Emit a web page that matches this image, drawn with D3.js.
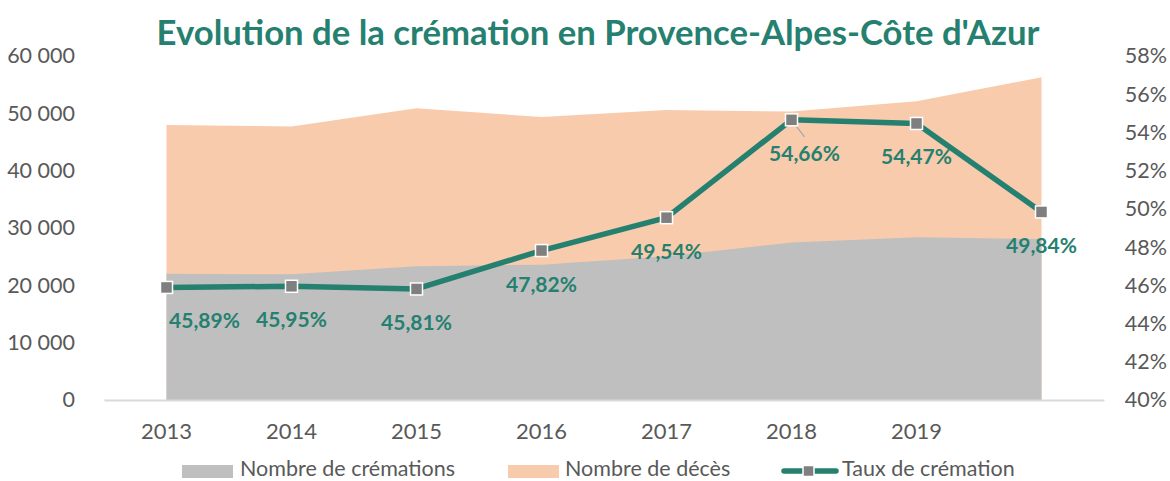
<!DOCTYPE html>
<html>
<head>
<meta charset="utf-8">
<script src="https://cdn.jsdelivr.net/npm/d3@7"></script>
<style>
  body { margin: 0; background: #fff; }
  svg { display: block; font-family: Lato, "Open Sans", sans-serif; }
</style>
</head>
<body>
<script>
// Years on the category axis (last one has no label in the original)
var years = ["2013", "2014", "2015", "2016", "2017", "2018", "2019", "2020"]
var yearLabels = ["2013", "2014", "2015", "2016", "2017", "2018", "2019", ""]

// Number of deaths and cremations
var deces = [47950, 47700, 50900, 49350, 50600, 50300, 52100, 56300]
var cremations = [22000, 21920, 23320, 23600, 25070, 27490, 28380, 28060]

// Cremation rate (%)
var taux = [45.89, 45.95, 45.81, 47.82, 49.54, 54.66, 54.47, 49.84]

// Axis ticks
var leftTicks = [0, 10000, 20000, 30000, 40000, 50000, 60000]
var rightTicks = [40, 42, 44, 46, 48, 50, 52, 54, 56, 58]

// Colours
var teal = "#25806f"
var grey = "#bfbfbf"
var peach = "#f8cbad"
var marker = "#7f7f7f"
var textGrey = "#595959"

var width = 1170, height = 481

var svg = d3.select("body").append("svg")
    .attr("width", width)
    .attr("height", height)

// Scales
var x = d3.scaleBand()
    .domain(years)
    .range([104, 1104])
var cx = function(d) { return x(d) + x.bandwidth() / 2 }

var yLeft = d3.scaleLinear()
    .domain([0, 60000])
    .range([400, 56])

var yRight = d3.scaleLinear()
    .domain([40, 58])
    .range([400, 56])

// French number format
var fr = d3.formatLocale({decimal: ",", thousands: " ", grouping: [3], currency: ["", " €"]})
var fmtNum = fr.format(",d")
var fmtPct = fr.format(".2f")

// Deaths area (behind)
var area = d3.area()
    .x(function(d, i) { return cx(years[i]) })
    .y0(yLeft(0))
    .y1(function(d) { return yLeft(d) })

svg.append("path")
    .datum(deces)
    .attr("d", area)
    .attr("fill", peach)

// Cremations area (front)
svg.append("path")
    .datum(cremations)
    .attr("d", area)
    .attr("fill", grey)

// Left axis
var leftAxis = svg.append("g")
    .attr("transform", "translate(75,0)")
    .call(d3.axisLeft(yLeft).tickValues(leftTicks).tickSize(0).tickPadding(0).tickFormat(fmtNum))
leftAxis.select(".domain").remove()
leftAxis.selectAll("text")
    .attr("fill", textGrey)
    .style("font-size", "21.5px")
    .style("font-family", "Lato, sans-serif")

// Right axis
var rightAxis = svg.append("g")
    .attr("transform", "translate(1167,0)")
    .call(d3.axisLeft(yRight).tickValues(rightTicks).tickSize(0).tickPadding(0)
      .tickFormat(function(d) { return d + "%" }))
rightAxis.select(".domain").remove()
rightAxis.selectAll("text")
    .attr("fill", textGrey)
    .style("font-size", "21.5px")
    .style("font-family", "Lato, sans-serif")

// Category axis
var bottomAxis = svg.append("g")
    .attr("transform", "translate(0,400)")
    .call(d3.axisBottom(x).tickSize(0).tickPadding(23)
      .tickFormat(function(d, i) { return yearLabels[i] }))
bottomAxis.select(".domain")
    .attr("stroke", "#d9d9d9")
    .attr("stroke-width", 2)
bottomAxis.selectAll("text")
    .attr("fill", textGrey)
    .style("font-size", "22px")
    .style("font-family", "Lato, sans-serif")

// Rate line
var line = d3.line()
    .x(function(d, i) { return cx(years[i]) })
    .y(function(d) { return yRight(d) })

svg.append("path")
    .datum(taux)
    .attr("d", line)
    .attr("fill", "none")
    .attr("stroke", teal)
    .attr("stroke-width", 5.5)
    .attr("stroke-linejoin", "round")

// Label nudges (first label sits right of its point, 2018 has a leader line)
var nudge = {"2013": 38, "2018": 13}

// Leader line for 2018
svg.append("line")
    .attr("x1", cx("2018"))
    .attr("y1", yRight(taux[5]))
    .attr("x2", cx("2018") + 13)
    .attr("y2", yRight(taux[5]) + 17)
    .attr("stroke", "#a6a6a6")
    .attr("stroke-width", 1.2)

// Markers
svg.selectAll(".marker")
    .data(taux)
    .enter().append("rect")
    .attr("class", "marker")
    .attr("x", function(d, i) { return cx(years[i]) - 6 })
    .attr("y", function(d) { return yRight(d) - 6 })
    .attr("width", 12)
    .attr("height", 12)
    .attr("fill", marker)
    .attr("stroke", "#fff")
    .attr("stroke-width", 1.5)

// Data labels
svg.selectAll(".label")
    .data(taux)
    .enter().append("text")
    .attr("class", "label")
    .attr("x", function(d, i) { return cx(years[i]) + (nudge[years[i]] || 0) })
    .attr("y", function(d) { return yRight(d) + 41 })
    .attr("text-anchor", "middle")
    .attr("fill", teal)
    .style("font-size", "21px")
    .style("font-weight", "bold")
    .text(function(d) { return fmtPct(d) + "%" })

// Title
var title = svg.append("text")
    .attr("x", 598)
    .attr("y", 45)
    .attr("text-anchor", "middle")
    .attr("fill", teal)
    .style("font-size", "32px")
    .style("font-weight", "bold")
    .text("Evolution de la crémation en Provence-Alpes-Côte d'Azur")
var tw = title.node().getComputedTextLength()
title.style("font-size", (32 * 883 / tw) + "px")

// Legend
var legend = svg.append("g").attr("transform", "translate(0,471)")

legend.append("rect")
    .attr("x", 182).attr("y", -6).attr("width", 51).attr("height", 13)
    .attr("fill", grey)
legend.append("text")
    .attr("x", 240).attr("y", 5)
    .attr("fill", textGrey)
    .style("font-size", "21.5px")
    .text("Nombre de crémations")

legend.append("rect")
    .attr("x", 508).attr("y", -6).attr("width", 51).attr("height", 13)
    .attr("fill", peach)
legend.append("text")
    .attr("x", 565).attr("y", 5)
    .attr("fill", textGrey)
    .style("font-size", "21.5px")
    .text("Nombre de décès")

legend.append("line")
    .attr("x1", 784).attr("x2", 836).attr("y1", 0).attr("y2", 0)
    .attr("stroke", teal)
    .attr("stroke-width", 5.5)
    .attr("stroke-linecap", "round")
legend.append("rect")
    .attr("x", 803).attr("y", -5.5).attr("width", 11).attr("height", 11)
    .attr("fill", marker)
    .attr("stroke", "#fff")
    .attr("stroke-width", 1.5)
legend.append("text")
    .attr("x", 842).attr("y", 5)
    .attr("fill", textGrey)
    .style("font-size", "21.5px")
    .text("Taux de crémation")
</script>
</body>
</html>
